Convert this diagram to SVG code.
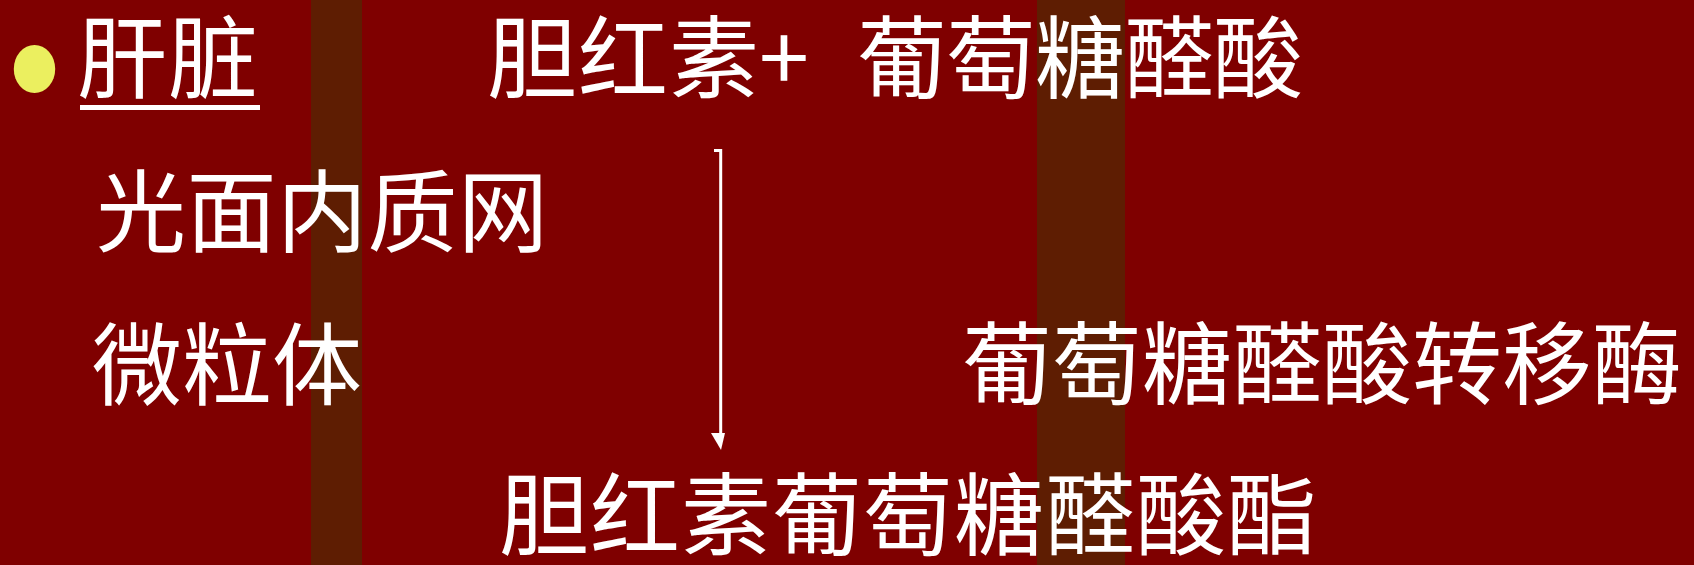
<svg xmlns="http://www.w3.org/2000/svg" width="1694" height="565" viewBox="0 0 1694 565">
<style>
.t{font-family:"Noto Sans CJK SC","Noto Sans",sans-serif;font-size:90px;fill:#ffffff}
.band{fill:#5e1d02}
</style>
<rect width="1694" height="565" fill="#7f0000"/>
<rect class="band" x="311" y="0" width="51" height="565"/>
<rect class="band" x="1037" y="0" width="88" height="565"/>
<g id="bullet"><ellipse cx="34.5" cy="69" rx="20.7" ry="24" fill="#ebef5f"/></g>
<g id="liver">
<text class="t" x="77" y="91" letter-spacing="1">肝脏</text>
<rect x="80" y="105" width="180" height="5" fill="#ffffff"/>
</g>
<g id="substrate">
<text class="t" x="487" y="91" letter-spacing="1">胆红素</text>
<text class="t" x="784" y="91" text-anchor="middle">+</text>
<text class="t" x="857" y="91" letter-spacing="-1">葡萄糖醛酸</text>
</g>
<g id="er"><text class="t" x="96" y="245" letter-spacing="0.5">光面内质网</text></g>
<g id="microsome"><text class="t" x="92" y="398">微粒体</text></g>
<g id="enzyme"><text class="t" x="962" y="397">葡萄糖醛酸转移酶</text></g>
<g id="product"><text class="t" x="499" y="548" letter-spacing="1">胆红素葡萄糖醛酸酯</text></g>
<g id="connectors">
<path d="M714,150.5 H720.7 V434" fill="none" stroke="#ffffff" stroke-width="3"/>
<path d="M711,433 H725 L721,450 Z" fill="#ffffff"/>
</g>
</svg>
